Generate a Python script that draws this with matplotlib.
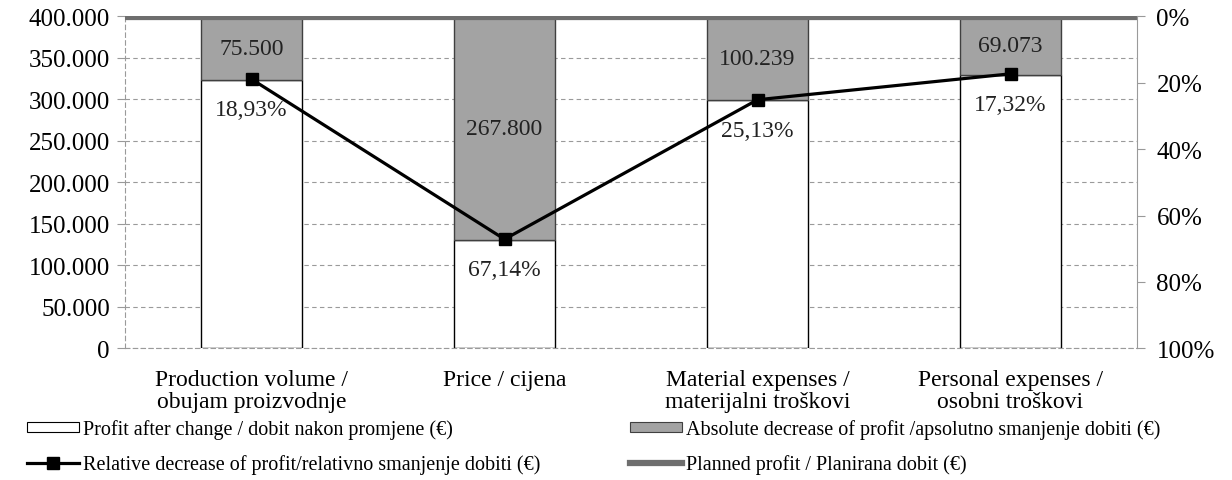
import numpy as np
import matplotlib
matplotlib.use('Agg')
import matplotlib.pyplot as plt
from matplotlib.patches import Patch
from matplotlib.lines import Line2D

plt.rcParams['font.family'] = ['Liberation Serif', 'DejaVu Serif']

categories = ['Production volume /\nobujam proizvodnje', 'Price / cijena',
              'Material expenses /\nmaterijalni troškovi', 'Personal expenses /\nosobni troškovi']
planned_profit = 398850
abs_decrease = [75500, 267800, 100239, 69073]
rel_decrease = [18.93, 67.14, 25.13, 17.32]
left_ticks = [0, 50000, 100000, 150000, 200000, 250000, 300000, 350000, 400000]
right_ticks = [0, 20, 40, 60, 80, 100]

label_after = 'Profit after change / dobit nakon promjene (€)'
label_rel = 'Relative decrease of profit/relativno smanjenje dobiti (€)'
label_abs = 'Absolute decrease of profit /apsolutno smanjenje dobiti (€)'
label_plan = 'Planned profit / Planirana dobit (€)'

GRAY = '#a3a3a3'
PLAN = '#6e6e6e'


def thousands(v):
    return f'{v:,}'.replace(',', '.')


def percent(v):
    return f'{v:.2f}'.replace('.', ',') + '%'


x = np.arange(len(categories))
after = [planned_profit - d for d in abs_decrease]

fig = plt.figure(figsize=(12.32, 4.81), dpi=100)
ax = fig.add_axes([0.1015, 0.2738, 0.8214, 0.6902])

ax.bar(x, after, width=0.4, color='white', edgecolor='black', lw=1, zorder=2)
ax.bar(x, abs_decrease, width=0.4, bottom=after, color=GRAY,
       edgecolor='#404040', lw=1, zorder=2)
ax.axhline(planned_profit, color=PLAN, lw=4.5, zorder=4)

for xi, a, d in zip(x, after, abs_decrease):
    ax.text(xi, a + d / 2, thousands(d), ha='center', va='center',
            fontsize=17, color='#222222', zorder=5)

ax.set_xlim(-0.5, len(categories) - 0.5)
ax.set_ylim(0, 400000)
ax.set_yticks(left_ticks)
ax.set_yticklabels([thousands(v) for v in left_ticks])
ax.set_xticks(x)
ax.set_xticklabels(categories, linespacing=1.05)
ax.tick_params(axis='x', length=0, pad=15, labelsize=17)
ax.tick_params(axis='y', length=6, width=0.8, color='#999999', pad=5, labelsize=18)
ax.yaxis.grid(True, ls=(0, (4, 3)), color='#9a9a9a', lw=0.8, zorder=0)
ax.set_axisbelow(True)

for s in ['top', 'right']:
    ax.spines[s].set_visible(False)
for s in ['left', 'bottom']:
    ax.spines[s].set_linestyle((0, (4, 3)))
    ax.spines[s].set_color('#9a9a9a')
    ax.spines[s].set_linewidth(0.8)

# relative decrease on the inverted percentage axis
ax2 = ax.twinx()
ax2.plot(x, rel_decrease, color='black', lw=2.3, marker='s', ms=9, zorder=6)
for xi, r in zip(x, rel_decrease):
    ax2.annotate(percent(r), (xi, r), xytext=(0, -22), textcoords='offset points',
                 ha='center', va='center', fontsize=17, color='#222222')
ax2.set_ylim(100, 0)
ax2.set_yticks(right_ticks)
ax2.set_yticklabels([f'{v}%' for v in right_ticks])
ax2.tick_params(axis='y', length=6, width=0.8, color='#999999', pad=8, labelsize=18)
for s in ['top', 'left', 'bottom']:
    ax2.spines[s].set_visible(False)
ax2.spines['right'].set_color('#9a9a9a')
ax2.spines['right'].set_linewidth(0.8)

# two legend columns placed separately
leg_kw = dict(loc='center left', frameon=False, fontsize=14.5, handlelength=2.6,
              handleheight=0.4, handletextpad=0.2, labelspacing=0.75,
              borderpad=0, borderaxespad=0)
fig.legend([Patch(facecolor='white', edgecolor='black', lw=0.8),
            Line2D([], [], color='black', lw=2.3, marker='s', ms=8)],
           [label_after, label_rel], bbox_to_anchor=(0.022, 0.069), **leg_kw)
fig.legend([Patch(facecolor=GRAY, edgecolor='#404040', lw=0.8),
            Line2D([], [], color=PLAN, lw=4.5)],
           [label_abs, label_plan], bbox_to_anchor=(0.511, 0.069), **leg_kw)

fig.savefig('out.png', dpi=100)
